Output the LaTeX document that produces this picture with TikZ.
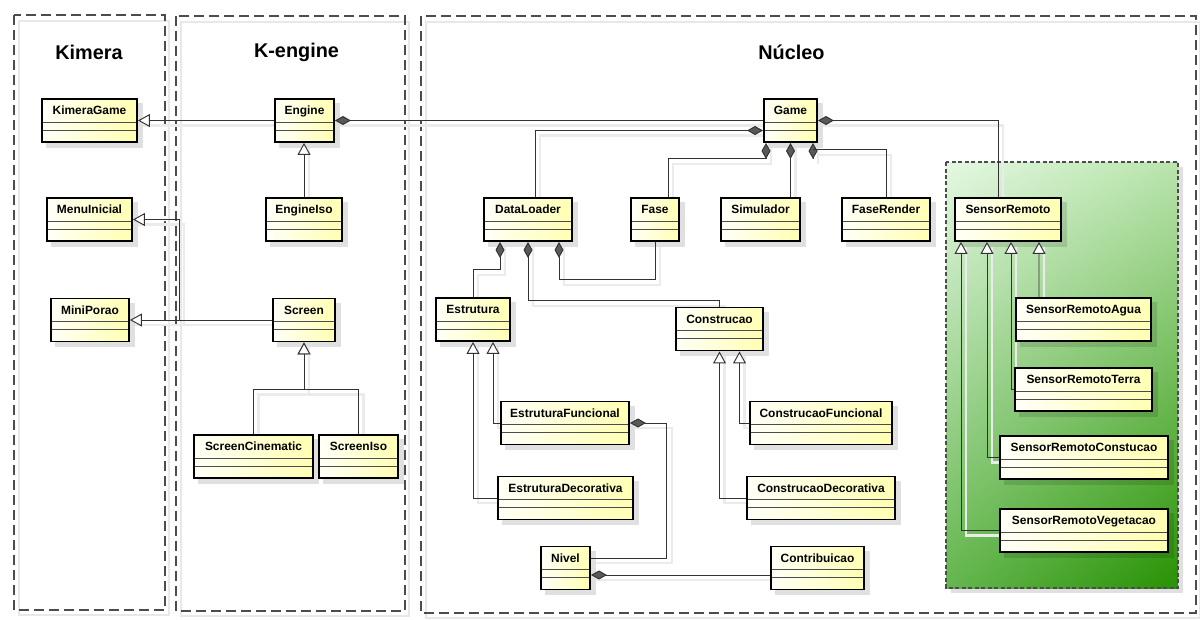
\documentclass[tikz,border=0pt]{standalone}
\usepackage{fontspec}
\setmainfont{Liberation Sans}
\usetikzlibrary{arrows.meta,backgrounds,positioning,shadings}
\pgfdeclarelayer{back}
\pgfdeclarelayer{lines}
\pgfsetlayers{back,lines,main}
\definecolor{greenLight}{RGB}{228,248,226}
\definecolor{greenTop}{RGB}{185,228,172}
\definecolor{greenLeft}{RGB}{100,182,78}
\definecolor{greenDark}{RGB}{40,146,4}
\newcommand\classfont{\fontsize{6.8}{8}\selectfont\bfseries}
\newcommand\pkgfont{\fontsize{11.3}{13}\selectfont\bfseries}

\begin{document}
\begin{tikzpicture}[x=0.02cm, y=-0.02cm,
    umlclass/.style={draw=black, line width=1.1pt, left color=yellow!3, right color=yellow!30,
      minimum height=8.6mm, inner xsep=0pt, inner ysep=0pt,
      text height=3.16mm, text depth=5.44mm, font=\classfont,
      path picture={\draw[line width=0.5pt, black!70]
        ([yshift=-4.6mm]path picture bounding box.north west) -- ([yshift=-4.6mm]path picture bounding box.north east)
        ([yshift=-6.2mm]path picture bounding box.north west) -- ([yshift=-6.2mm]path picture bounding box.north east);}},
    pkgframe/.style={draw=black!70, line width=0.6pt, dash pattern=on 2mm off 1mm},
    pkgshadow/.style={draw=black!9, line width=0.9pt},
    link/.style={draw=black!80, line width=0.55pt,
      preaction={-, draw=black!8, line width=1.2pt, transform canvas={shift={(1mm,-1mm)}}}},
    isa/.style={link, -{Triangle[length=2.4mm, width=2.6mm, fill=white]}},
    owns/.style={link, {Diamond[length=3.2mm, width=1.8mm, fill=black!65]}-}]
  \useasboundingbox (0,0) rectangle (1200,619);

  % packages
  \begin{pgfonlayer}{back}
    \draw[pkgshadow] (19,21) rectangle (169,615);
    \draw[pkgframe] (14,15) rectangle (165,610);
    \draw[pkgshadow] (181,22) rectangle (409,616);
    \draw[pkgframe] (176,16) rectangle (405,611);
    \draw[pkgshadow] (426,22) rectangle (1200,618);
    \draw[pkgframe] (421,16) rectangle (1196,613);
    \fill[black!12] (951,167) rectangle (1183,593);
    \shade[upper left=greenLight, upper right=greenTop, lower left=greenLeft, lower right=greenDark]
      (946,162) rectangle (1178,588);
    \draw[black!70, line width=0.6pt, dash pattern=on 0.8mm off 0.5mm] (946,162) rectangle (1178,588);
  \end{pgfonlayer}

  \node[font=\pkgfont] (kimeraTitle) at (89,52) {Kimera};
  \node[font=\pkgfont] (kEngineTitle) at (296.5,52) {K-engine};
  \node[font=\pkgfont] (nucleoTitle) at (791.5,52) {Núcleo};

  \begin{scope}[every node/.style={umlclass}]
    % Kimera
    \node[minimum width=19mm] (kimeraGame) at (89.5,120.5) {KimeraGame};
    \node[minimum width=17mm] (menuInicial) at (89.5,219.5) {MenuInicial};
    \node[minimum width=15.6mm] (miniPorao) at (90,320) {MiniPorao};
    % K-engine
    \node[minimum width=11.8mm] (engine) at (304.5,120.5) {Engine};
    \node[minimum width=15.2mm] (engineIso) at (304,219.5) {EngineIso};
    \node[minimum width=12.4mm] (screen) at (304,320) {Screen};
    \node[minimum width=23.8mm] (screenCinematic) at (253.5,456.5) {ScreenCinematic};
    \node[minimum width=15.8mm] (screenIso) at (358.5,456.5) {ScreenIso};
    % Nucleo
    \node[minimum width=10.6mm] (game) at (790.5,120.5) {Game};
    \node[minimum width=17.6mm] (dataLoader) at (528,219.5) {DataLoader};
    \node[minimum width=9.6mm] (fase) at (655,219.5) {Fase};
    \node[minimum width=15.8mm] (simulador) at (760.5,219.5) {Simulador};
    \node[minimum width=17.6mm] (faseRender) at (886,219.5) {FaseRender};
    \node[minimum width=21.2mm] (sensorRemoto) at (1008,219.5) {SensorRemoto};
    \node[minimum width=14.8mm] (estrutura) at (473,319.5) {Estrutura};
    \node[minimum width=17.4mm] (construcao) at (719.5,329) {Construcao};
    \node[minimum width=25.6mm] (estruturaFuncional) at (565,423) {EstruturaFuncional};
    \node[minimum width=27mm] (estruturaDecorativa) at (565.5,498) {EstruturaDecorativa};
    \node[minimum width=9.8mm] (nivel) at (565.5,568) {Nivel};
    \node[minimum width=28.4mm] (construcaoFuncional) at (821,423) {ConstrucaoFuncional};
    \node[minimum width=29.6mm] (construcaoDecorativa) at (821,498) {ConstrucaoDecorativa};
    \node[minimum width=18.6mm] (contribuicao) at (817.5,568) {Contribuicao};
    \node[minimum width=27mm] (sensorRemotoAgua) at (1083.5,319.5) {SensorRemotoAgua};
    \node[minimum width=27.4mm] (sensorRemotoTerra) at (1083.5,389.5) {SensorRemotoTerra};
    \node[minimum width=33.6mm] (sensorRemotoConstucao) at (1084,457.5) {SensorRemotoConstucao};
    \node[minimum width=33.6mm] (sensorRemotoVegetacao) at (1084,530.5) {SensorRemotoVegetacao};
  \end{scope}

  % shadows of the classes
  \begin{pgfonlayer}{back}
    \foreach \c in {kimeraGame,menuInicial,miniPorao,engine,engineIso,screen,screenCinematic,screenIso,
        game,dataLoader,fase,simulador,faseRender,sensorRemoto,estrutura,construcao,
        estruturaFuncional,estruturaDecorativa,nivel,construcaoFuncional,construcaoDecorativa,contribuicao,
        sensorRemotoAgua,sensorRemotoTerra,sensorRemotoConstucao,sensorRemotoVegetacao}
      \fill[black, opacity=0.12] ([shift={(1mm,-1mm)}]\c.south west) rectangle ([shift={(1mm,-1mm)}]\c.north east);
  \end{pgfonlayer}

  \begin{pgfonlayer}{lines}
    % K-engine
    \draw[isa] (engine.west) -- (kimeraGame.east);
    \draw[owns] (engine.east) -- (game.west);
    \draw[isa] (engineIso.north) -- (engineIso.north |- engine.south);
    \draw[isa] (screen.west) -- ++(-93,0) |- (menuInicial.east);
    \draw[isa] (screen.west) -- (miniPorao.east);
    \draw[isa] (screenCinematic.north) |- ([yshift=-9.4mm]screen.south) -- (screen.south);
    \draw[isa] (screenIso.north) |- ([yshift=-9.4mm]screen.south) -- (screen.south);
    % Nucleo
    \draw[owns] ([yshift=-2mm]game.west) -| ([xshift=1.4mm]dataLoader.north);
    \draw[owns] ([xshift=-4.9mm]game.south) -- ++(0,16) -| ([xshift=2.6mm]fase.north);
    \draw[owns] (game.south) -- (game.south |- simulador.north);
    \draw[owns] ([xshift=4.5mm]game.south) -- ++(0,16);
    \draw[link] ([xshift=4.5mm, yshift=-1.4mm]game.south) -| (faseRender.north);
    \draw[owns] (game.east) -| ([xshift=-2mm]sensorRemoto.north);
    \draw[owns] ([xshift=-5.6mm]dataLoader.south) -- ++(0,28) -| (estrutura.north);
    \draw[owns] (dataLoader.south) -- ++(0,59) -| (construcao.north);
    \draw[owns] ([xshift=6.2mm]dataLoader.south) -- ++(0,38) -| (fase.south);
    \draw[isa] (estruturaFuncional.west) -| ([xshift=4mm]estrutura.south);
    \draw[isa] (estruturaDecorativa.west) -| (estrutura.south);
    \draw[isa] (construcaoFuncional.west) -| ([xshift=4mm]construcao.south);
    \draw[isa] (construcaoDecorativa.west) -| (construcao.south);
    \draw[owns] (estruturaFuncional.east) -- ++(37,0) |- ([yshift=2mm]nivel.east);
    \draw[owns] ([yshift=-1.4mm]nivel.east) -- ([yshift=-1.4mm]contribuicao.west);
    % sensores
    \draw[isa] (sensorRemotoAgua.north -| 1039,0) -- ([xshift=6.2mm]sensorRemoto.south);
    \draw[isa] (sensorRemotoTerra.west) -| ([xshift=0.6mm]sensorRemoto.south);
    \draw[isa] (sensorRemotoConstucao.west) -| ([xshift=-4.2mm]sensorRemoto.south);
    \draw[isa] (sensorRemotoVegetacao.west) -| ([xshift=-9.4mm]sensorRemoto.south);
  \end{pgfonlayer}
\end{tikzpicture}
\end{document}
